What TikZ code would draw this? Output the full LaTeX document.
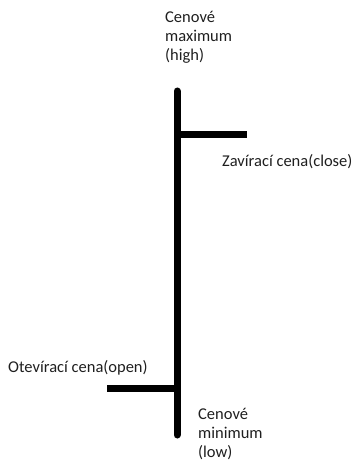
\documentclass[tikz,border=0pt]{standalone}
\usepackage{fontspec}
\setmainfont{Carlito}
\usetikzlibrary{positioning}
\newcommand{\lblfont}{\fontsize{16.5}{19}\selectfont}

\begin{document}
\begin{tikzpicture}[x=1pt,y=-1pt,
  bar/.style={line width=7pt},
  lbl/.style={font=\lblfont, text=black!88, align=left, inner sep=0pt}]
  \useasboundingbox (0,0) rectangle (353,462);

  \coordinate (top) at (177,91);
  \coordinate (bottom) at (177,435);
  \coordinate (closeend) at (247,135);
  \coordinate (openend) at (107,388);

  \draw [bar, line cap=round] (top) -- (bottom);
  \draw [bar] (top |- closeend) -- (closeend);
  \draw [bar] (openend) -- (top |- openend);

  % multi-line labels: base is the last line
  \node (high) [lbl, anchor=base west] at (165,61) {Cenové\\maximum\\(high)};
  \node (close) [lbl, anchor=base west] at (222,167) {Zavírací cena(close)};
  \node (open) [lbl, anchor=base west] at (8,372) {Otevírací cena(open)};
  \node (low) [lbl, anchor=base west] at (198,457) {Cenové\\minimum\\(low)};
\end{tikzpicture}
\end{document}
